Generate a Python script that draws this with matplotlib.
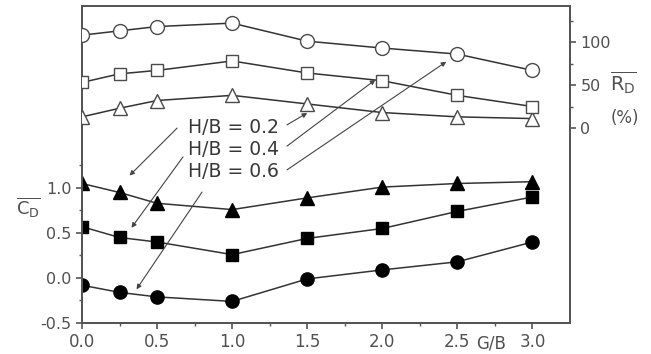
import matplotlib
matplotlib.use("Agg")
import matplotlib.pyplot as plt
from matplotlib.ticker import FixedLocator
from matplotlib.transforms import ScaledTranslation

plt.rcParams['font.family'] = ['DejaVu Sans']
plt.rcParams['mathtext.fontset'] = 'dejavusans'

# ---- data ----
gb = [0.0, 0.25, 0.5, 1.0, 1.5, 2.0, 2.5, 3.0]
cd_hb02 = [1.05, 0.95, 0.83, 0.76, 0.89, 1.01, 1.05, 1.07]
cd_hb04 = [0.57, 0.45, 0.40, 0.26, 0.44, 0.55, 0.74, 0.90]
cd_hb06 = [-0.08, -0.16, -0.21, -0.26, -0.01, 0.09, 0.18, 0.40]
rd_hb02 = [13, 23, 32, 38, 28, 18, 13, 11]
rd_hb04 = [53, 63, 67, 78, 64, 55, 38, 25]
rd_hb06 = [108, 113, 118, 122, 101, 93, 86, 67]
labels = ['H/B = 0.2', 'H/B = 0.4', 'H/B = 0.6']
x_ticks = [0.0, 0.5, 1.0, 1.5, 2.0, 2.5, 3.0]
cd_ticks = [-0.5, 0.0, 0.5, 1.0]
rd_ticks = [0, 50, 100]

W, H = 651, 354
fig = plt.figure(figsize=(W / 100, H / 100), dpi=100)

def fx(x):
    return x / W

def fy(y):
    return 1 - y / H

L, R, T, B = 82, 570, 6, 323
ax = fig.add_axes([fx(L), fy(B), fx(R) - fx(L), fy(T) - fy(B)])
ax2 = ax.twinx()

gray = '#4a4a4a'
line_c = '#333333'
txt_c = '#505050'

# filled series on left axis (C_D)
ax.plot(gb, cd_hb02, '-', color=line_c, lw=1.1, marker='^', ms=10,
        mfc='black', mec='black', clip_on=True, zorder=3)
ax.plot(gb, cd_hb04, '-', color=line_c, lw=1.1, marker='s', ms=8.5,
        mfc='black', mec='black', clip_on=True, zorder=3)
ax.plot(gb, cd_hb06, '-', color=line_c, lw=1.1, marker='o', ms=9.5,
        mfc='black', mec='black', clip_on=True, zorder=3)

# open series on right axis (R_D)
ax2.plot(gb, rd_hb02, '-', color=line_c, lw=1.1, marker='^', ms=10.5,
         mfc='white', mec=gray, mew=1.0, clip_on=True, zorder=3)
ax2.plot(gb, rd_hb04, '-', color=line_c, lw=1.1, marker='s', ms=9,
         mfc='white', mec=gray, mew=1.0, clip_on=True, zorder=3)
ax2.plot(gb, rd_hb06, '-', color=line_c, lw=1.1, marker='o', ms=10,
         mfc='white', mec=gray, mew=1.0, clip_on=True, zorder=3)

ax.set_xlim(0, 3.25)
ax.set_ylim(-0.5, 3.022)
ax2.set_ylim(-226.7, 141.9)

ax.xaxis.set_major_locator(FixedLocator(x_ticks))
ax.xaxis.set_minor_locator(FixedLocator([0.25, 0.75, 1.25, 1.75, 2.25, 2.75]))
ax.set_xticklabels([f'{v:.1f}' for v in x_ticks])
ax.yaxis.set_major_locator(FixedLocator(cd_ticks))
ax.yaxis.set_minor_locator(FixedLocator([-0.25, 0.25, 0.75, 1.25]))
ax.set_yticklabels([f'{v:.1f}' for v in cd_ticks])
ax2.yaxis.set_major_locator(FixedLocator(rd_ticks))
ax2.yaxis.set_minor_locator(FixedLocator([25, 75, 125]))
ax2.set_yticklabels([str(v) for v in rd_ticks])

for a in (ax, ax2):
    for s in a.spines.values():
        s.set_color('#555555')
        s.set_linewidth(1.4)
ax.tick_params(axis='both', which='major', direction='out', length=4.5, width=1.2,
               color='#555555', labelsize=11.5, labelcolor=txt_c)
ax.tick_params(axis='both', which='minor', direction='out', length=2.5, width=1.0,
               color='#555555')
ax.tick_params(axis='x', pad=3, labelsize=12)
ax.tick_params(axis='y', pad=3)
ax2.tick_params(axis='y', which='major', direction='out', length=4.5, width=1.2,
                color='#555555', labelsize=11.5, labelcolor=txt_c, pad=3)
ax2.tick_params(axis='y', which='minor', direction='out', length=2.5, width=1.0,
                color='#555555')

# axis labels
fig.text(fx(16), fy(207), r'$\overline{\mathrm{C_D}}$', fontsize=13, color=txt_c,
         ha='left', va='center')
fig.text(fx(610), fy(83), r'$\overline{\mathrm{R_D}}$', fontsize=14, color=txt_c,
         ha='left', va='center')
fig.text(fx(611), fy(118), '(%)', fontsize=12, color=txt_c, ha='left', va='center')
fig.text(fx(476), fy(353), 'G/B', fontsize=12, color=txt_c, ha='left',
         va='bottom')

# labels and arrows
text_pos = [(0.217, 0.618), (0.217, 0.548), (0.217, 0.478)]
for lab, (tx, ty) in zip(labels, text_pos):
    ax.text(tx, ty, lab, transform=ax.transAxes, fontsize=13.5, color='#383838',
            ha='left', va='center')

def arrow(axis, xd, yd, dx, dy, sx, sy):
    tr = axis.transData + ScaledTranslation(dx / 72, dy / 72, fig.dpi_scale_trans)
    axis.annotate('', xy=(xd, yd), xycoords=tr, xytext=(sx, sy),
                  textcoords='axes fraction',
                  arrowprops=dict(arrowstyle='-|>', color='#444444', lw=0.8,
                                  mutation_scale=7, shrinkA=0, shrinkB=0),
                  zorder=5)

# H/B = 0.2
arrow(ax, gb[1], cd_hb02[1], 7.2, 12.2, 0.195, 0.615)
arrow(ax2, gb[4], rd_hb02[4], 0, -6.5, 0.420, 0.625)
# H/B = 0.4
arrow(ax, gb[1], cd_hb04[1], 8.6, 7.0, 0.207, 0.524)
arrow(ax2, gb[5], rd_hb04[5], -5, 0.7, 0.420, 0.558)
# H/B = 0.6
arrow(ax, gb[1], cd_hb06[1], 12.2, 2.2, 0.246, 0.413)
arrow(ax2, gb[6], rd_hb06[6], -8, -5.5, 0.420, 0.483)

fig.savefig('out.png', dpi=100)
